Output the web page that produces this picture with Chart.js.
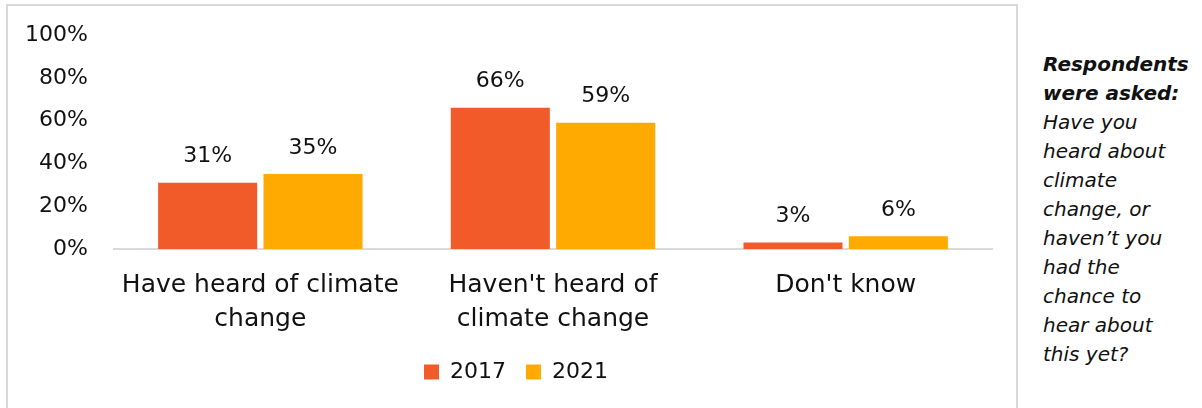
<!DOCTYPE html>
<html>
<head>
<meta charset="utf-8">
<script src="https://cdn.jsdelivr.net/npm/chart.js@4.4.1/dist/chart.umd.min.js"></script>
<style>
  html, body { margin: 0; padding: 0; background: #fff; }
  body { width: 1202px; height: 408px; position: relative; overflow: hidden; font-family: "DejaVu Sans", sans-serif; }
  #frame { position: absolute; left: 6px; top: 4px; width: 1012px; height: 420px; border: 2px solid #d9d9d9; box-sizing: border-box; }
  #wrap { position: absolute; left: 0; top: 0; width: 1022px; height: 408px; }
  #note { position: absolute; left: 1043px; top: 50px; width: 170px; font-size: 20px; line-height: 29px; font-style: italic; color: #111; white-space: nowrap; }
  #note b { font-weight: bold; }
</style>
</head>
<body>
<div id="frame"></div>
<div id="wrap"><canvas id="c" width="1022" height="408"></canvas></div>
<div id="note"><b>Respondents<br>were asked:</b><br>Have you<br>heard about<br>climate<br>change, or<br>haven’t you<br>had the<br>chance to<br>hear about<br>this yet?</div>
<script>
// Answer categories (multi-line axis labels)
const categories = [
  ["Have heard of climate", "change"],
  ["Haven't heard of", "climate change"],
  ["Don't know"]
];
// Share of respondents, percent
const values2017 = [31, 66, 3];
const values2021 = [35, 59, 6];
const seriesNames = ["2017", "2021"];
const yTicks = [0, 20, 40, 60, 80, 100];

const FONT = "'DejaVu Sans', sans-serif";

// Percentage labels above each bar
const barValueLabels = {
  id: 'barValueLabels',
  afterDatasetsDraw(chart) {
    const ctx = chart.ctx;
    ctx.save();
    ctx.font = "22px " + FONT;
    ctx.fillStyle = "#111";
    ctx.textAlign = "center";
    ctx.textBaseline = "middle";
    chart.data.datasets.forEach((ds, i) => {
      chart.getDatasetMeta(i).data.forEach((bar, j) => {
        ctx.fillText(ds.data[j] + "%", bar.x, bar.y - 26);
      });
    });
    ctx.restore();
  }
};

// Nudge the legend row to the right of the plot's centre line
const legendShift = {
  id: 'legendShift',
  afterLayout(chart) {
    const lg = chart.legend;
    if (lg) { lg.left += 20; lg.right += 20; }
  }
};

new Chart(document.getElementById('c'), {
  type: 'bar',
  data: {
    labels: categories,
    datasets: [
      { label: seriesNames[0], data: values2017, backgroundColor: '#F15A29' },
      { label: seriesNames[1], data: values2021, backgroundColor: '#FFAA00' }
    ]
  },
  options: {
    responsive: false,
    animation: false,
    layout: { padding: { left: 0, right: 30, top: 35, bottom: 15 } },
    datasets: { bar: { categoryPercentage: 0.72, barPercentage: 0.94 } },
    scales: {
      x: {
        grid: { display: false, drawTicks: false },
        border: { display: true, color: '#d9d9d9', width: 2 },
        ticks: { color: '#111', font: { family: FONT, size: 25, lineHeight: 1.36 }, padding: 19, maxRotation: 0, autoSkip: false },
        afterFit(scale) { scale.height = 92; }
      },
      y: {
        min: 0, max: 100,
        afterBuildTicks(scale) { scale.ticks = yTicks.map(v => ({ value: v })); },
        grid: { display: false, drawTicks: false },
        border: { display: false },
        ticks: { color: '#111', font: { family: FONT, size: 22 }, padding: 26, callback: v => v + '%' },
        afterFit(scale) {
          scale.width = 114;
          scale.paddingTop = 0;
          scale.paddingBottom = 0;
        }
      }
    },
    plugins: {
      legend: {
        position: 'bottom',
        labels: { color: '#111', font: { family: FONT, size: 22 }, boxWidth: 15, boxHeight: 15, padding: 20 }
      },
      tooltip: { enabled: false }
    }
  },
  plugins: [barValueLabels, legendShift]
});
</script>
</body>
</html>
